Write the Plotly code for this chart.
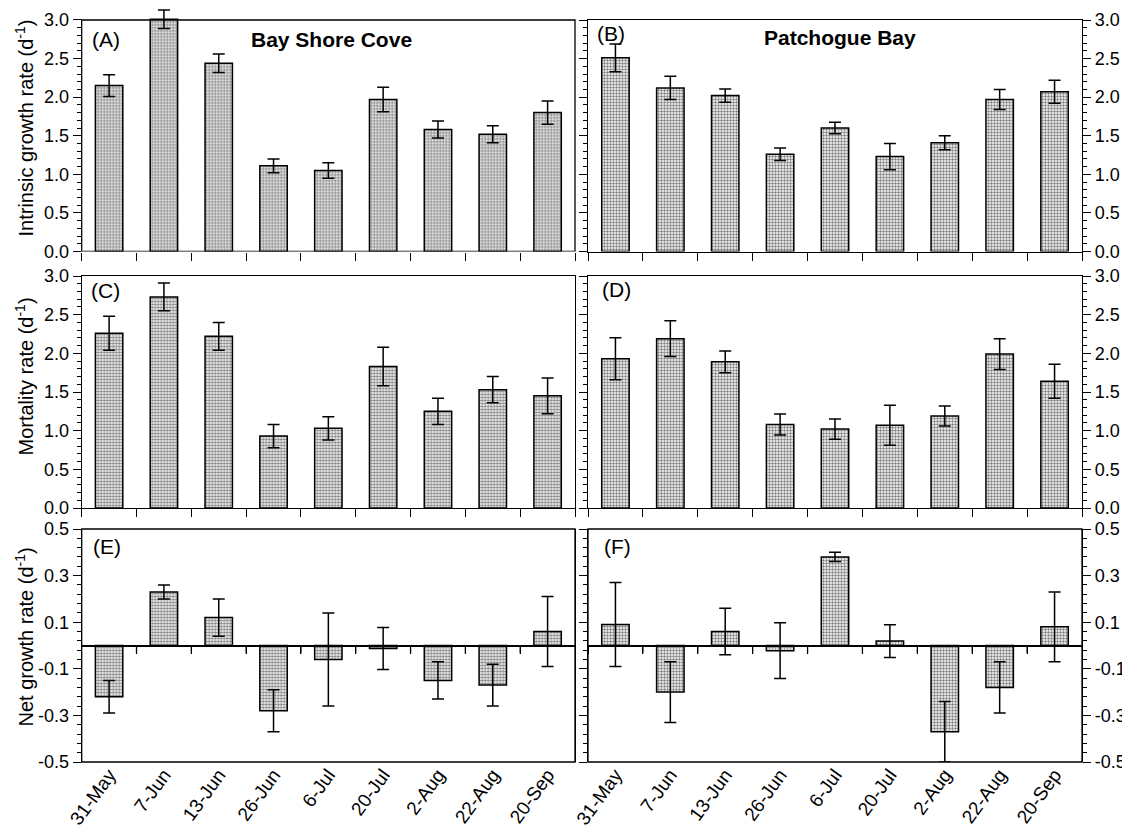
import plotly.graph_objects as go

# ---------------- data ----------------
dates = ["31-May", "7-Jun", "13-Jun", "26-Jun", "6-Jul", "20-Jul", "2-Aug", "22-Aug", "20-Sep"]

bsc_growth = [2.15, 3.01, 2.44, 1.11, 1.05, 1.97, 1.58, 1.52, 1.80]
bsc_growth_err = [0.14, 0.12, 0.12, 0.09, 0.10, 0.16, 0.11, 0.11, 0.15]
pb_growth = [2.51, 2.12, 2.02, 1.26, 1.60, 1.23, 1.41, 1.97, 2.07]
pb_growth_err = [0.18, 0.15, 0.085, 0.08, 0.075, 0.17, 0.09, 0.13, 0.15]

bsc_mort = [2.26, 2.73, 2.22, 0.93, 1.03, 1.83, 1.25, 1.53, 1.45]
bsc_mort_err = [0.22, 0.18, 0.18, 0.15, 0.15, 0.25, 0.17, 0.17, 0.23]
pb_mort = [1.93, 2.19, 1.89, 1.08, 1.02, 1.07, 1.19, 1.99, 1.64]
pb_mort_err = [0.27, 0.23, 0.14, 0.135, 0.13, 0.26, 0.13, 0.20, 0.22]

bsc_net = [-0.22, 0.23, 0.12, -0.28, -0.06, -0.013, -0.15, -0.17, 0.06]
bsc_net_err = [0.07, 0.03, 0.08, 0.09, 0.20, 0.09, 0.08, 0.09, 0.15]
pb_net = [0.09, -0.20, 0.06, -0.022, 0.38, 0.019, -0.37, -0.18, 0.08]
pb_net_err = [0.18, 0.13, 0.10, 0.12, 0.02, 0.07, 0.13, 0.11, 0.15]

rate_ticks = [0.0, 0.5, 1.0, 1.5, 2.0, 2.5, 3.0]
rate_ticktext = ["0.0", "0.5", "1.0", "1.5", "2.0", "2.5", "3.0"]
rate_minor = [0.1, 0.2, 0.3, 0.4, 0.6, 0.7, 0.8, 0.9, 1.1, 1.2, 1.3, 1.4, 1.6, 1.7, 1.8, 1.9,
              2.1, 2.2, 2.3, 2.4, 2.6, 2.7, 2.8, 2.9]
net_ticks = [-0.5, -0.3, -0.1, 0.1, 0.3, 0.5]
net_ticktext = ["-0.5", "-0.3", "-0.1", "0.1", "0.3", "0.5"]
rate_max = 3.0
rate_top_ext = 3.15   # headroom so the 7-Jun error bar can rise above the frame

panel_values = [bsc_growth, pb_growth, bsc_mort, pb_mort, bsc_net, pb_net]
panel_errors = [bsc_growth_err, pb_growth_err, bsc_mort_err, pb_mort_err, bsc_net_err, pb_net_err]
panel_labels = ["(A)", "(B)", "(C)", "(D)", "(E)", "(F)"]

# ---------------- layout geometry ----------------
# the page body has an 8px margin, so the figure is sized to end at the window edge
OFF = 8
W, H = 1130 - OFF, 839 - OFF
FONT = "Liberation Sans, Arial, Helvetica, sans-serif"


def fx(p):
    return (p - OFF) / W


def fy(p):
    return 1 - (p - OFF) / H


XL = [fx(81.7), fx(575)]
XR = [fx(588), fx(1082)]
A_top, A_bot = 20.0, 251.5
ppu = (A_bot - A_top) / rate_max
YA_ext = [fy(A_bot), fy(A_bot - ppu * rate_top_ext)]
YA = [fy(A_bot), fy(A_top)]
YC = [fy(508), fy(276)]
E_top, E_bot = 529.0, 762.0
YE = [fy(E_bot), fy(E_top)]
zeroE = (YE[0] + YE[1]) / 2
label_standoff = int(round((E_bot - E_top) / 2 - 7))

fig = go.Figure()

for i in range(6):
    n = i + 1
    fig.add_trace(go.Bar(
        x=dates, y=panel_values[i],
        width=0.5,
        marker=dict(color="white", line=dict(color="black", width=1.5),
                    pattern=dict(shape=".", fgcolor="black", bgcolor="white",
                                 size=3, solidity=0.5)),
        error_y=dict(type="data", array=panel_errors[i], color="black",
                     thickness=1.5, width=6),
        cliponaxis=False,
        xaxis=f"x{n}", yaxis=f"y{n}", showlegend=False,
    ))

line_kw = dict(showline=True, linecolor="black", linewidth=1.3,
               showgrid=False, zeroline=False, automargin=False)

xdomains = [XL, XR, XL, XR, XL, XR]
ydomains = [YA_ext, YA, YC, YC, YE, YE]

layout = dict(
    width=W, height=H,
    margin=dict(l=0, r=0, t=0, b=0, pad=0, autoexpand=False),
    paper_bgcolor="white", plot_bgcolor="white",
    font=dict(family=FONT, color="black", size=18),
    showlegend=False,
)

for i in range(6):
    n = i + 1
    right = (i % 2 == 1)
    xa = dict(type="category", range=[-0.5, 8.5], domain=xdomains[i],
              ticks="outside", tickson="boundaries", ticklen=8,
              tickwidth=1.3, tickcolor="black", **line_kw)
    if i < 4:
        xa.update(anchor=f"y{n}", mirror=(i != 0), showticklabels=False)
        if i == 0:
            xa.update(showline=False)
    else:
        # axis sits on the zero line; labels pushed down to below the frame
        xa.update(anchor="free", position=zeroE, mirror=False, linewidth=1.6,
                  showticklabels=True, tickangle=-54,
                  ticklabelstandoff=label_standoff,
                  tickfont=dict(size=19, family=FONT, color="black"))
    layout[f"xaxis{n}"] = xa

    ya = dict(domain=ydomains[i], anchor=f"x{n}", side="right" if right else "left",
              mirror="ticks" if right else True, ticks="outside", ticklen=8,
              tickwidth=1.3, tickcolor="black",
              tickfont=dict(size=18, family=FONT, color="black"),
              tickmode="array", **line_kw)
    if i < 4:
        ya.update(range=[0, rate_top_ext if i == 0 else rate_max],
                  tickvals=rate_ticks, ticktext=rate_ticktext,
                  minor=dict(ticks="outside", ticklen=4, tickwidth=1,
                             tickcolor="black", tickmode="array", tickvals=rate_minor))
        if i == 0:
            ya.update(showline=False, mirror=False)
    else:
        ya.update(range=[-0.5, 0.5], tickvals=net_ticks, ticktext=net_ticktext,
                  minor=dict(ticks="outside", ticklen=4, tickwidth=1,
                             tickcolor="black", tickmode="linear", tick0=-0.5, dtick=0.04))
    layout[f"yaxis{n}"] = ya

fig.update_layout(**layout)

# frames: panel A (y range has headroom above 3.0) and the net-growth panels
fig.add_shape(type="rect", xref="x domain", yref="y", x0=0, x1=1, y0=0, y1=rate_max,
              line=dict(color="black", width=1.3), fillcolor="rgba(0,0,0,0)", layer="above")
for n in (5, 6):
    fig.add_shape(type="rect", xref=f"x{n} domain", yref=f"y{n} domain", x0=0, x1=1, y0=0, y1=1,
                  line=dict(color="black", width=1.3), fillcolor="rgba(0,0,0,0)", layer="above")
    # category-boundary tick marks hanging below the zero line
    for k in range(len(dates) - 1):
        fig.add_shape(type="line", xref=f"x{n}", yref=f"y{n}", x0=k + 0.5, x1=k + 0.5,
                      ysizemode="pixel", yanchor=0, y0=0, y1=-8,
                      line=dict(color="black", width=1.3), layer="above")

annotations = []
label_pos = [(90, 39.5), (594.5, 33.5), (89, 290.5), (600, 289), (91, 546.5), (602, 546)]
for lab, (px, py) in zip(panel_labels, label_pos):
    annotations.append(dict(text=lab, xref="paper", yref="paper", x=fx(px), y=fy(py),
                            xanchor="left", yanchor="middle", showarrow=False,
                            font=dict(size=21, family=FONT, color="black")))

annotations.append(dict(text="<b>Bay Shore Cove</b>", xref="paper", yref="paper",
                        x=fx(331), y=fy(39), xanchor="center", yanchor="middle",
                        showarrow=False, font=dict(size=21, family=FONT, color="black")))
annotations.append(dict(text="<b>Patchogue Bay</b>", xref="paper", yref="paper",
                        x=fx(840), y=fy(38), xanchor="center", yanchor="middle",
                        showarrow=False, font=dict(size=21, family=FONT, color="black")))

ytitles = [("Intrinsic growth rate (d<sup>-1</sup>)", 128),
           ("Mortality rate (d<sup>-1</sup>)", 377),
           ("Net growth rate (d<sup>-1</sup>)", 637)]
for txt, py in ytitles:
    annotations.append(dict(text=txt, xref="paper", yref="paper", x=fx(38), y=fy(py),
                            xanchor="right", yanchor="middle", textangle=-90,
                            showarrow=False, font=dict(size=20, family=FONT, color="black")))

fig.update_layout(annotations=annotations)

fig.write_html("out.html")
